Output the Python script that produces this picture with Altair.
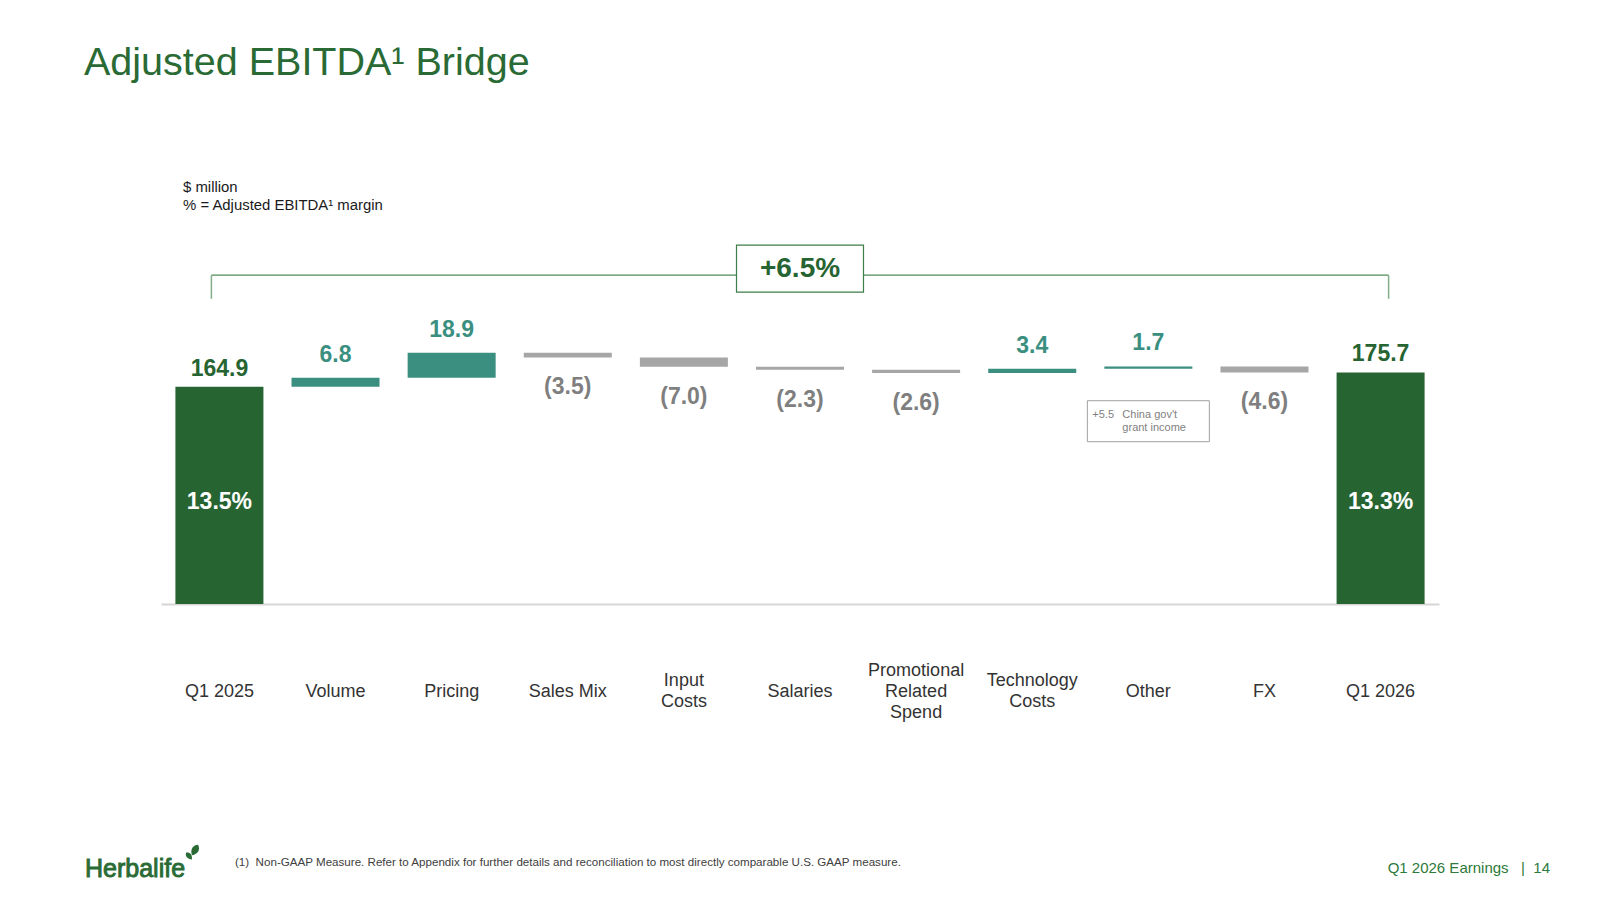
import altair as alt
import pandas as pd

# ---- bridge values ($ million) ----
categories = ["Q1 2025", "Volume", "Pricing", "Sales Mix", "Input|Costs", "Salaries",
              "Promotional|Related|Spend", "Technology|Costs", "Other", "FX", "Q1 2026"]
amounts = [164.9, 6.8, 18.9, -3.5, -7.0, -2.3, -2.6, 3.4, 1.7, -4.6, 175.7]
kinds = ["total", "up", "up", "down", "down", "down", "down", "up", "up", "down", "total"]
margin_labels = {"Q1 2025": "13.5%", "Q1 2026": "13.3%"}
growth_text = "+6.5%"
note_amount = "+5.5"
note_lines = ["China gov't", "grant income"]

FONT = "Liberation Sans, Arial, Helvetica, sans-serif"
DARK_GREEN = "#266432"
TEAL = "#3b8f80"
GREY_BAR = "#a6a6a6"
GREY_TEXT = "#7f7f7f"
TITLE_GREEN = "#2a6b35"
NBSP = "\u00a0"

# running totals for the floating bars
rows = []
running = 0.0
for cat, amt, kind in zip(categories, amounts, kinds):
    if kind == "total":
        start, end = 0.0, amt
        label = f"{amt:.1f}"
    else:
        start, end = running, running + amt
        label = f"{amt:.1f}" if amt > 0 else f"({-amt:.1f})"
    running = end
    rows.append(dict(cat=cat, kind=kind, start=start, end=end,
                     top=max(start, end), bottom=min(start, end),
                     label=label, margin=margin_labels.get(cat, "")))
df = pd.DataFrame(rows)

Y_MAX = 280
x_scale = alt.Scale(domain=categories, paddingInner=0.242, paddingOuter=0.124)
y_scale = alt.Scale(domain=[0, Y_MAX], nice=False, zero=True)

# multi-line category names are centred vertically on the single-line ones
label_padding = {
    "condition": [
        {"test": "indexof(datum.value, '|') < 0", "value": 87},
        {"test": "length(split(datum.value, '|')) == 2", "value": 76.5},
    ],
    "value": 66,
}

x_enc = alt.X(
    "cat:N", sort=categories, scale=x_scale, title=None,
    axis=alt.Axis(
        labelExpr="split(datum.label, '|')", labelAngle=0, labelFont=FONT,
        labelFontSize=18, labelColor="#333333", labelLineHeight=21,
        labelBaseline="middle", labelPadding=label_padding, labelOverlap=False,
        labelLimit=0, ticks=False, tickSize=0, domainColor="#d6d6d6", domainWidth=2,
        grid=False,
    ),
)

base = alt.Chart(df)

bars = base.mark_bar(opacity=1).encode(
    x=x_enc,
    y=alt.Y("start:Q", scale=y_scale, axis=None),
    y2="end:Q",
    color=alt.Color("kind:N", legend=None,
                    scale=alt.Scale(domain=["total", "up", "down"],
                                    range=[DARK_GREEN, TEAL, GREY_BAR])),
)

label_style = dict(font=FONT, fontSize=23, fontWeight="bold", baseline="alphabetic")

total_labels = base.transform_filter("datum.kind == 'total'").mark_text(
    dy=-11, color=DARK_GREEN, **label_style
).encode(x=alt.X("cat:N", sort=categories), y=alt.Y("top:Q"), text="label:N")

up_labels = base.transform_filter("datum.kind == 'up'").mark_text(
    dy=-16, color=TEAL, **label_style
).encode(x=alt.X("cat:N", sort=categories), y=alt.Y("top:Q"), text="label:N")

down_labels = base.transform_filter("datum.kind == 'down'").mark_text(
    dy=37, color=GREY_TEXT, **label_style
).encode(x=alt.X("cat:N", sort=categories), y=alt.Y("bottom:Q"), text="label:N")

margin_text = base.transform_filter("datum.kind == 'total'").mark_text(
    font=FONT, fontSize=23, fontWeight="bold", color="white", baseline="middle"
).encode(x=alt.X("cat:N", sort=categories), y=alt.datum(77.6), text="margin:N")

# bracket spanning the two totals, with the growth callout in the middle
one = pd.DataFrame({"k": [0]})
BRACKET_TOP, BRACKET_FOOT = 249.5, 231.6
BRACKET_COLOR = "#4c8b57"
bracket_top = alt.Chart(one).mark_rule(
    color=BRACKET_COLOR, strokeWidth=1.3, xOffset=-8, x2Offset=8
).encode(x=alt.datum("Q1 2025"), x2=alt.datum("Q1 2026"), y=alt.datum(BRACKET_TOP))
bracket_left = alt.Chart(one).mark_rule(
    color="#7fae88", strokeWidth=1.5, xOffset=-8
).encode(x=alt.datum("Q1 2025"), y=alt.datum(BRACKET_FOOT), y2=alt.datum(BRACKET_TOP))
bracket_right = alt.Chart(one).mark_rule(
    color="#7fae88", strokeWidth=1.5, xOffset=8
).encode(x=alt.datum("Q1 2026"), y=alt.datum(BRACKET_FOOT), y2=alt.datum(BRACKET_TOP))

growth_box = alt.Chart(pd.DataFrame({"cat": ["Salaries"]})).mark_point(
    shape="M-1,-0.37H1V0.37H-1Z", size=127 ** 2, filled=True, fill="white",
    stroke="#3d7d48", strokeWidth=1.2, opacity=1
).encode(x=alt.X("cat:N", sort=categories), y=alt.datum(254.5))

growth_label = alt.Chart(pd.DataFrame({"cat": ["Salaries"], "t": [growth_text]})).mark_text(
    font=FONT, fontSize=28, fontWeight="bold", color=DARK_GREEN, baseline="middle"
).encode(x=alt.X("cat:N", sort=categories), y=alt.datum(254.5), text="t:N")

# note under the "Other" step
note_box = alt.Chart(pd.DataFrame({"cat": ["Other"]})).mark_point(
    shape="M-1,-0.336H1V0.336H-1Z", size=122 ** 2, filled=True, fill="white",
    stroke="#a0a0a0", strokeWidth=1, opacity=1
).encode(x=alt.X("cat:N", sort=categories), y=alt.datum(138.7))

note_style = dict(font=FONT, fontSize=11, color=GREY_TEXT, baseline="middle", align="left")
note_amt = alt.Chart(pd.DataFrame({"cat": ["Other"], "t": [note_amount]})).mark_text(
    dx=-56, **note_style
).encode(x=alt.X("cat:N", sort=categories), y=alt.datum(143.6), text="t:N")
note_l1 = alt.Chart(pd.DataFrame({"cat": ["Other"], "t": [note_lines[0]]})).mark_text(
    dx=-26, **note_style
).encode(x=alt.X("cat:N", sort=categories), y=alt.datum(143.6), text="t:N")
note_l2 = alt.Chart(pd.DataFrame({"cat": ["Other"], "t": [note_lines[1]]})).mark_text(
    dx=-26, **note_style
).encode(x=alt.X("cat:N", sort=categories), y=alt.datum(133.4), text="t:N")


# slide furniture: title, units note, footer
def slide_text(text, x, y, **kw):
    return alt.Chart(one).mark_text(font=FONT, align=kw.pop("align", "left"), **kw).encode(
        x=alt.value(x), y=alt.value(y), text=alt.value(text)
    )


title = slide_text("Adjusted EBITDA¹ Bridge", -77, -160.5, fontSize=39.5,
                   color=TITLE_GREEN, baseline="alphabetic")
units1 = slide_text("$ million", 22, -47.5, fontSize=14.9, color="#1a1a1a", baseline="middle")
units2 = slide_text("% = Adjusted EBITDA¹ margin", 22, -29.5, fontSize=14.9,
                    color="#1a1a1a", baseline="middle")
footnote = slide_text(
    f"(1){NBSP*2}Non-GAAP Measure. Refer to Appendix for further details and reconciliation "
    "to most directly comparable U.S. GAAP measure.",
    74, 628, fontSize=11.6, color="#404040", baseline="middle")
page = slide_text(f"Q1 2026 Earnings{NBSP*3}|{NBSP*2}14", 1389, 633, fontSize=15,
                  color="#2d7a3a", baseline="middle", align="right")
logo = slide_text("Herbalife", -76, 634, fontSize=25, color=TITLE_GREEN, baseline="middle",
                  stroke=TITLE_GREEN, strokeWidth=0.9)

# two-leaf sprout beside the wordmark
leaf_path = "M0,1 C-0.75,0.3 -0.75,-0.5 0,-1 C0.75,-0.5 0.75,0.3 0,1 Z"


def leaf(x, y, size, angle):
    return alt.Chart(one).mark_point(
        shape=leaf_path, filled=True, color=TITLE_GREEN, opacity=1,
        size=size, angle=angle,
    ).encode(x=alt.value(x), y=alt.value(y))


leaves = [leaf(28, 621, 80, 320), leaf(34, 615, 150, 30)]

chart = alt.layer(
    bars, bracket_top, bracket_left, bracket_right, growth_box, growth_label,
    total_labels, up_labels, down_labels, margin_text,
    note_box, note_amt, note_l1, note_l2,
    title, units1, units2, footnote, page, logo, *leaves,
).properties(
    width=1278, height=369,
    padding={"left": 161, "top": 235, "right": 161, "bottom": 296},
    autosize=alt.AutoSizeParams(type="none"),
    background="white",
).configure_view(stroke=None)

chart.save("out.html", embed_options={"renderer": "svg", "actions": False})
